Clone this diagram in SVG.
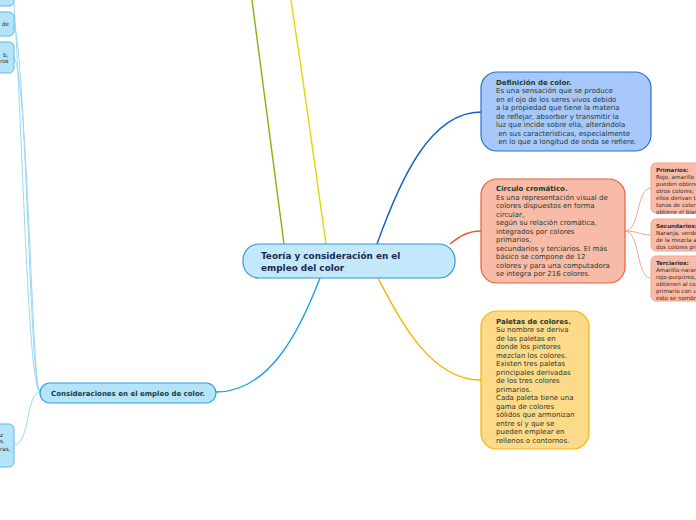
<svg xmlns="http://www.w3.org/2000/svg" width="696" height="520" viewBox="0 0 696 520">
<style>
text{font-family:"DejaVu Sans","Verdana",sans-serif;}
.t{font-size:7px;fill:#1f3a2c;}
.b{font-weight:bold;}
.s{font-size:5.6px;fill:#3a2a20;}
.c{fill:none;stroke-width:1.4;}
.lc{fill:none;stroke:#9bd8f4;stroke-width:1;}
.sc{fill:none;stroke:#f2a88c;stroke-width:1;}
</style>
<rect width="696" height="520" fill="#ffffff"/>
<g id="connectors">
<path class="c" stroke="#7cb80a" d="M252,0 C262,80 275,170 284,244"/>
<path class="c" stroke="#e8d400" d="M291,0 C303,80 316,170 326,244"/>
<path class="c" stroke="#1162c9" d="M377,244 C400,180 430,112 481,112"/>
<path class="c" stroke="#ea5a2c" d="M450,244 C460,236 468,231 481,231"/>
<path class="c" stroke="#f6b400" d="M378,278 C400,320 430,380 481,380"/>
<path class="c" stroke="#1aa3e0" d="M320,278 C300,330 270,392 216,392"/>
<path class="lc" d="M40,392 C28,392 22,120 14,3"/>
<path class="lc" d="M40,392 C30,392 26,60 14,24"/>
<path class="lc" d="M40,392 C32,392 28,80 14,57"/>
<path class="lc" d="M40,392 C26,392 30,445 14,445"/>
<path class="sc" d="M625,231 C640,231 636,188 651,188"/>
<path class="sc" d="M625,231 C638,231 640,235 651,235"/>
<path class="sc" d="M625,231 C640,231 636,278 651,278"/>
</g>
<g id="left-node-1">
<rect x="-20" y="-20" width="34" height="26" rx="5" fill="#b3e4fa" stroke="#5ab8e8" stroke-width="1"/>
</g>
<g id="left-node-2">
<rect x="-20" y="12" width="34" height="24" rx="5" fill="#b3e4fa" stroke="#5ab8e8" stroke-width="1"/>
<text class="s" x="2" y="25.5">de</text>
</g>
<g id="left-node-3">
<rect x="-20" y="42" width="34" height="31" rx="5" fill="#b3e4fa" stroke="#5ab8e8" stroke-width="1"/>
<text class="s" x="3" y="57">b,</text>
<text class="s" x="0" y="62.5">ros</text>
</g>
<g id="left-node-4">
<rect x="-20" y="424" width="34" height="43" rx="5" fill="#b3e4fa" stroke="#5ab8e8" stroke-width="1"/>
<text class="s" x="0" y="437">z</text>
<text class="s" x="0" y="442.5">s.</text>
<text class="s" x="0" y="451">ras,</text>
</g>
<g id="central">
<rect x="243" y="244" width="212" height="34" rx="16" fill="#c4e8fb" stroke="#3694d6" stroke-width="1.2"/>
<text x="261" y="259" font-size="8.9" font-weight="bold" fill="#1a2a4c">Teoría y consideración en el</text>
<text x="261" y="270.5" font-size="8.9" font-weight="bold" fill="#1a2a4c">empleo del color</text>
</g>
<g id="definicion">
<rect x="481" y="72" width="170" height="79" rx="16" fill="#a8c8fb" stroke="#2a6fd6" stroke-width="1.2"/>
<text class="t" x="496" y="84.5"><tspan class="b">Definición de color.</tspan><tspan x="496" dy="8.5">Es una sensación que se produce</tspan><tspan x="496" dy="8.5">en el ojo de los seres vivos debido</tspan><tspan x="496" dy="8.5">a la propiedad que tiene la materia</tspan><tspan x="496" dy="8.5">de reflejar, absorber y transmitir la</tspan><tspan x="496" dy="8.5">luz que incide sobre ella, alterándola</tspan><tspan x="496" dy="8.5"> en sus características, especialmente</tspan><tspan x="496" dy="8.5"> en lo que a longitud de onda se refiere.</tspan></text>
</g>
<g id="circulo">
<rect x="481" y="179" width="144" height="104" rx="16" fill="#f8bba8" stroke="#e8603a" stroke-width="1.2"/>
<text class="t" x="496" y="191"><tspan class="b">Circulo cromático.</tspan><tspan x="496" dy="8.5">Es una representación visual de</tspan><tspan x="496" dy="8.5">colores dispuestos en forma</tspan><tspan x="496" dy="8.5">circular,</tspan><tspan x="496" dy="8.5">según su relación cromática,</tspan><tspan x="496" dy="8.5">integrados por colores</tspan><tspan x="496" dy="8.5">primarios,</tspan><tspan x="496" dy="8.5">secundarios y terciarios. El más</tspan><tspan x="496" dy="8.5">básico se compone de 12</tspan><tspan x="496" dy="8.5">colores y para una computadora</tspan><tspan x="496" dy="8.5">se integra por 216 colores.</tspan></text>
</g>
<g id="paletas">
<rect x="481" y="311" width="108" height="138" rx="16" fill="#fdd98a" stroke="#f5b400" stroke-width="1.2"/>
<text class="t" x="496" y="323.5"><tspan class="b">Paletas de colores.</tspan><tspan x="496" dy="8.5">Su nombre se deriva</tspan><tspan x="496" dy="8.5">de las paletas en</tspan><tspan x="496" dy="8.5">donde los pintores</tspan><tspan x="496" dy="8.5">mezclan los colores.</tspan><tspan x="496" dy="8.5">Existen tres paletas</tspan><tspan x="496" dy="8.5">principales derivadas</tspan><tspan x="496" dy="8.5">de los tres colores</tspan><tspan x="496" dy="8.5">primarios.</tspan><tspan x="496" dy="8.5">Cada paleta tiene una</tspan><tspan x="496" dy="8.5">gama de colores</tspan><tspan x="496" dy="8.5">sólidos que armonizan</tspan><tspan x="496" dy="8.5">entre sí y que se</tspan><tspan x="496" dy="8.5">pueden emplear en</tspan><tspan x="496" dy="8.5">rellenos o contornos.</tspan></text>
</g>
<g id="primarios">
<rect x="651" y="163" width="60" height="50" rx="5" fill="#f8bba8" stroke="#f2a88c" stroke-width="1"/>
<text class="s" x="656" y="171.5"><tspan class="b">Primarios:</tspan><tspan x="656" dy="7">Rojo, amarillo</tspan><tspan x="656" dy="7">pueden obtene</tspan><tspan x="656" dy="7">otros colores;</tspan><tspan x="656" dy="7">ellos derivan t</tspan><tspan x="656" dy="7">tonos de color</tspan><tspan x="656" dy="7">obtiene el blan</tspan></text>
</g>
<g id="secundarios">
<rect x="651" y="219" width="60" height="32" rx="5" fill="#f8bba8" stroke="#f2a88c" stroke-width="1"/>
<text class="s" x="656" y="228"><tspan class="b">Secundarios:</tspan><tspan x="656" dy="7">Naranja, verde</tspan><tspan x="656" dy="7">de la mezcla a</tspan><tspan x="656" dy="7">dos colores pri</tspan></text>
</g>
<g id="terciarios">
<rect x="651" y="256" width="60" height="45" rx="5" fill="#f8bba8" stroke="#f2a88c" stroke-width="1"/>
<text class="s" x="656" y="264.5"><tspan class="b">Terciarios:</tspan><tspan x="656" dy="7">Amarillo-naran</tspan><tspan x="656" dy="7">rojo-purpúreo,</tspan><tspan x="656" dy="7">obtienen al co</tspan><tspan x="656" dy="7">primario con u</tspan><tspan x="656" dy="7">esto se nombra</tspan></text>
</g>
<g id="consideraciones">
<rect x="40" y="383" width="176" height="20" rx="10" fill="#b3e4fa" stroke="#2aa0dc" stroke-width="1.2"/>
<text x="128" y="396" font-size="7" font-weight="bold" fill="#1f3a3c" text-anchor="middle">Consideraciones en el empleo de color.</text>
</g>
</svg>
